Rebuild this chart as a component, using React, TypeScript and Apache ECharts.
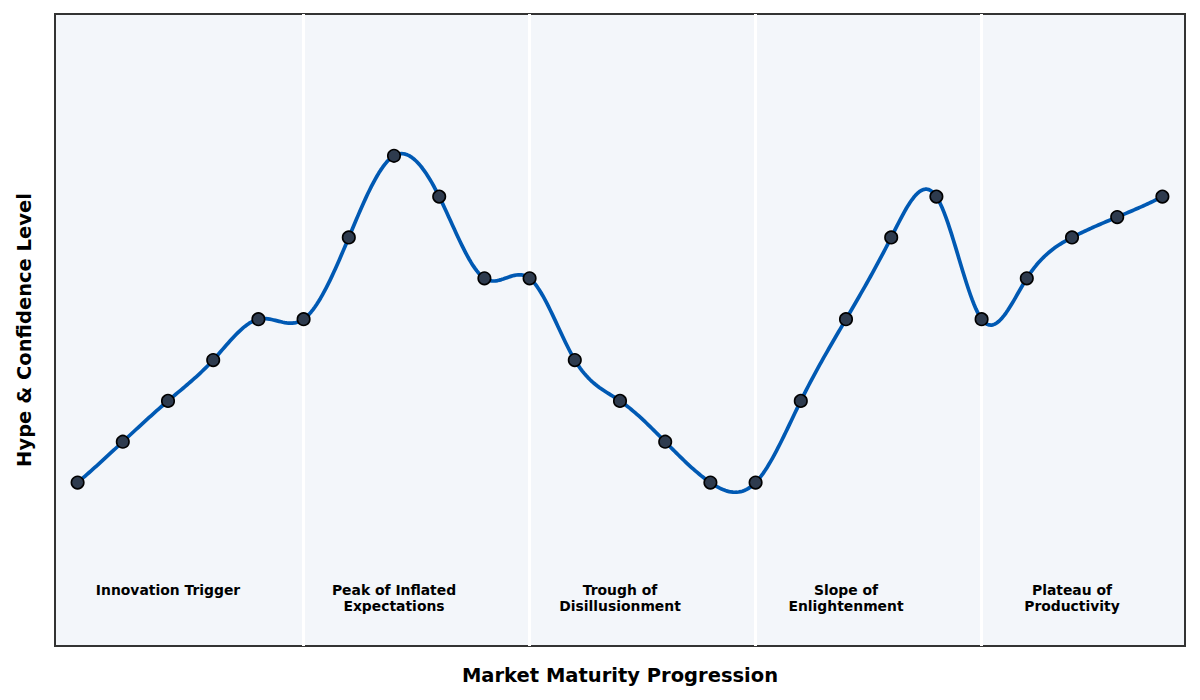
import React, { useEffect, useRef } from "react";
import * as echarts from "echarts";

const hypeValues: number[] = [20, 25, 30, 35, 40, 40, 50, 60, 55, 45, 45, 35, 30, 25, 20, 20, 30, 40, 50, 55, 40, 45, 50, 52.5, 55];
const phaseNames: string[] = [
  "Innovation Trigger",
  "Peak of Inflated\nExpectations",
  "Trough of\nDisillusionment",
  "Slope of\nEnlightenment",
  "Plateau of\nProductivity",
];
const phaseCenters: number[] = [2, 7, 12, 17, 22];
const phaseBoundaries: number[] = [5, 10, 15, 20];
const phaseLabelLevel = 8;
const xAxisTitle = "Market Maturity Progression";
const yAxisTitle = "Hype & Confidence Level";

// Second derivatives of a not-a-knot cubic spline through (i, y[i]), unit spacing
function splineSecondDerivs(y: number[]): number[] {
  const n = y.length;
  const A: number[][] = Array.from({ length: n }, () => new Array(n + 1).fill(0));
  A[0][0] = 1; A[0][1] = -2; A[0][2] = 1; A[0][n] = 0;
  for (let i = 1; i < n - 1; i++) {
    A[i][i - 1] = 1; A[i][i] = 4; A[i][i + 1] = 1;
    A[i][n] = 6 * (y[i + 1] - 2 * y[i] + y[i - 1]);
  }
  A[n - 1][n - 3] = 1; A[n - 1][n - 2] = -2; A[n - 1][n - 1] = 1; A[n - 1][n] = 0;
  for (let c = 0; c < n; c++) {
    let p = c;
    for (let r = c + 1; r < n; r++) if (Math.abs(A[r][c]) > Math.abs(A[p][c])) p = r;
    const tmp = A[c]; A[c] = A[p]; A[p] = tmp;
    for (let r = 0; r < n; r++) {
      if (r === c) continue;
      const f = A[r][c] / A[c][c];
      if (f === 0) continue;
      for (let k = c; k <= n; k++) A[r][k] -= f * A[c][k];
    }
  }
  return A.map((row, i) => row[n] / row[i]);
}

export default function App() {
  const ref = useRef<HTMLDivElement>(null);
  useEffect(() => {
    if (!ref.current) return;
    const chart = echarts.init(ref.current, undefined, { renderer: "svg" });
    const font = "DejaVu Sans";
    const M = splineSecondDerivs(hypeValues);
    const points = hypeValues.map((v, i) => [i, v]);
    chart.setOption({
      animation: false,
      backgroundColor: "#ffffff",
      grid: {
        left: 55,
        top: 14,
        width: 1130,
        height: 632,
        show: true,
        backgroundColor: "#f3f6fa",
        borderColor: "#333333",
        borderWidth: 2,
        z: 0,
      },
      xAxis: {
        type: "value",
        min: -0.5,
        max: 24.5,
        axisLine: { show: false },
        axisTick: { show: false },
        axisLabel: { show: false },
        splitLine: { show: false },
        name: xAxisTitle,
        nameLocation: "middle",
        nameGap: 19,
        nameTextStyle: { fontFamily: font, fontWeight: "bold", fontSize: 19.5, color: "#000" },
      },
      yAxis: {
        type: "value",
        min: 0,
        max: 77.35,
        axisLine: { show: false },
        axisTick: { show: false },
        axisLabel: { show: false },
        splitLine: { show: false },
        name: yAxisTitle,
        nameLocation: "middle",
        nameGap: 21,
        nameTextStyle: { fontFamily: font, fontWeight: "bold", fontSize: 19.5, color: "#000" },
      },
      series: [
        {
          type: "scatter",
          z: 1,
          silent: true,
          symbolSize: 0,
          itemStyle: { opacity: 1 },
          data: phaseCenters.map((c, i) => ({ value: [c, phaseLabelLevel], name: phaseNames[i] })),
          label: {
            show: true,
            position: "bottom",
            distance: 0,
            offset: [0, 1],
            formatter: (p: any) => p.name,
            fontFamily: font,
            fontWeight: "bold",
            fontSize: 13.9,
            lineHeight: 16,
            color: "#000000",
            align: "center",
          },
          markLine: {
            silent: true,
            z: 1,
            symbol: "none",
            label: { show: false },
            lineStyle: { color: "#ffffff", width: 3, type: "solid", opacity: 1 },
            data: phaseBoundaries.map((b) => ({ xAxis: b })),
          },
        },
        {
          type: "custom",
          z: 8,
          silent: true,
          data: points,
          encode: { x: 0, y: 1 },
          renderItem: (params: any, api: any) => {
            if (params.dataIndex !== 0) return null;
            const pts: number[][] = [];
            const n = hypeValues.length;
            const steps = 24;
            for (let i = 0; i < n - 1; i++) {
              for (let s = 0; s < steps; s++) {
                const t = s / steps;
                const u = 1 - t;
                const yv = u * hypeValues[i] + t * hypeValues[i + 1] +
                  ((u * u * u - u) * M[i] + (t * t * t - t) * M[i + 1]) / 6;
                pts.push(api.coord([i + t, yv]));
              }
            }
            pts.push(api.coord([n - 1, hypeValues[n - 1]]));
            return {
              type: "polyline",
              shape: { points: pts },
              style: { stroke: "#0059b3", lineWidth: 3.7, fill: null, lineJoin: "round", lineCap: "round" },
            };
          },
        },
        {
          type: "scatter",
          z: 10,
          data: points,
          symbol: "circle",
          symbolSize: 12.5,
          itemStyle: { color: "#2e3b4e", borderColor: "#000000", borderWidth: 1.6, opacity: 1 },
        },
      ],
    });
    return () => chart.dispose();
  }, []);
  return <div ref={ref} style={{ position: "fixed", left: 0, top: 0, width: 1200, height: 700 }} />;
}
